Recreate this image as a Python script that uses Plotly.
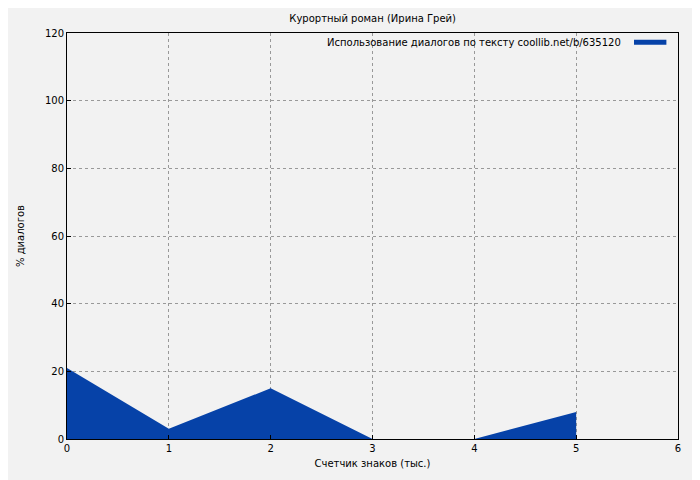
import plotly.graph_objects as go

# characters counter (thousands) vs % dialogues
x_vals = [0, 1, 2, 3, 4, 5]
dialog_pct = [21, 3, 15, 0, 0, 8]
x_ticks = [0, 1, 2, 3, 4, 5, 6]
y_ticks = [0, 20, 40, 60, 80, 100, 120]

fill_color = '#0642a8'
font = dict(family='DejaVu Sans', size=10, color='black')

fig = go.Figure()
fig.add_trace(go.Scatter(
    x=x_vals, y=dialog_pct, mode='lines', fill='tozeroy',
    line=dict(color=fill_color, width=0), fillcolor=fill_color,
    showlegend=False
))

axis_common = dict(
    showgrid=True, gridcolor='#999999', griddash='dot', gridwidth=1,
    showline=True, linecolor='black', linewidth=1, mirror=True,
    ticks='inside', ticklen=4, tickcolor='black', zeroline=False,
    tickfont=font
)

# page body adds an 8px offset, so the figure is sized to compensate
fig.update_layout(
    width=692, height=472,
    paper_bgcolor='#f2f2f2', plot_bgcolor='#f2f2f2',
    margin=dict(l=52, r=22, t=25, b=41),
    font=font,
    title=dict(text='Курортный роман (Ирина Грей)', x=0.527, y=0.985,
               xanchor='center', font=dict(family='DejaVu Sans', size=10)),
    xaxis=dict(axis_common, range=[0, 6], tickvals=x_ticks,
               title=dict(text='Счетчик знаков (тыс.)', standoff=6, font=font)),
    yaxis=dict(axis_common, range=[0, 120], tickvals=y_ticks,
               title=dict(text='% диалогов', standoff=18, font=font)),
)

fig.add_annotation(
    text='Использование диалогов по тексту coollib.net/b/635120',
    xref='paper', yref='paper', x=0.91, y=0.977, xanchor='right', yanchor='middle',
    showarrow=False, font=font
)
fig.add_shape(type='line', xref='paper', yref='paper', x0=0.928, x1=0.981,
              y0=0.977, y1=0.977, line=dict(color=fill_color, width=5))

fig.write_html("out.html")
